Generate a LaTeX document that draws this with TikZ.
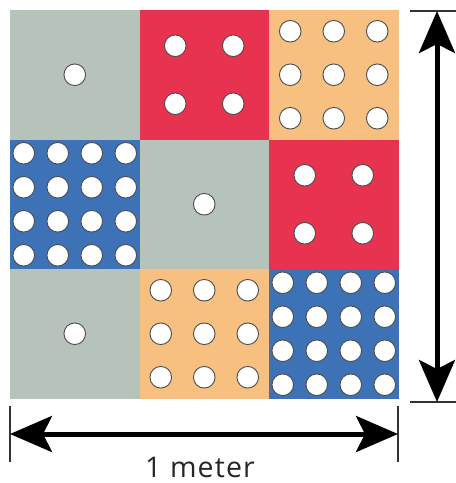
\documentclass[tikz,border=0pt]{standalone}
\usepackage{fontspec}
\setsansfont[LetterSpace=4]{Open Sans}
\usetikzlibrary{arrows.meta}
\definecolor{slab}{RGB}{181,195,187}
\definecolor{brick}{RGB}{231,50,80}
\definecolor{sand}{RGB}{247,192,128}
\definecolor{sea}{RGB}{62,114,182}
\tikzset{
  hole/.style={draw=black!70, fill=white, line width=0.9pt},
  tick/.style={draw=black!80, line width=1.2pt},
  measure/.style={line width=5pt, {Stealth[length=42pt,width=36pt,inset=9pt]}-{Stealth[length=42pt,width=36pt,inset=9pt]}}
}
\begin{document}
\begin{tikzpicture}[x=1pt,y=-1pt]
	\useasboundingbox (0,0) rectangle (456,483);
	% tiles: column/row/colour/holes per side/spacing
	\foreach \c/\r/\col/\n/\s in {0/0/slab/1/0, 1/0/brick/2/58, 2/0/sand/3/43.5,
	  0/1/sea/4/34, 1/1/slab/1/0, 2/1/brick/2/58,
	  0/2/slab/1/0, 1/2/sand/3/43.5, 2/2/sea/4/34}{
		\fill[fill=\col] (10+\c*129.5,10+\r*129.5) rectangle ++(129.5,129.5);
		\foreach \i in {1,...,\n}
			\foreach \j in {1,...,\n}
				\draw[hole] (74.75+\c*129.5+\i*\s-\n*\s/2-\s/2, 74.75+\r*129.5+\j*\s-\n*\s/2-\s/2) circle[radius=10.8pt];
	}
	% horizontal measure
	\coordinate (hl) at (10,434);
	\coordinate (hr) at (398,434);
	\draw[tick] (10,406) -- (10,462);
	\draw[tick] (398,406) -- (398,462);
	\draw[measure] (hl) -- (hr);
	\node[font=\sffamily\fontsize{28.5}{28.5}\selectfont, text=black!85, anchor=base, inner sep=0pt] (label) at (200,477) {1 meter};
	% vertical measure
	\coordinate (vt) at (437,11);
	\coordinate (vb) at (437,402);
	\draw[tick] (410,11) -- (456,11);
	\draw[tick] (410,402) -- (456,402);
	\draw[measure] (vt) -- (vb);
\end{tikzpicture}
\end{document}
